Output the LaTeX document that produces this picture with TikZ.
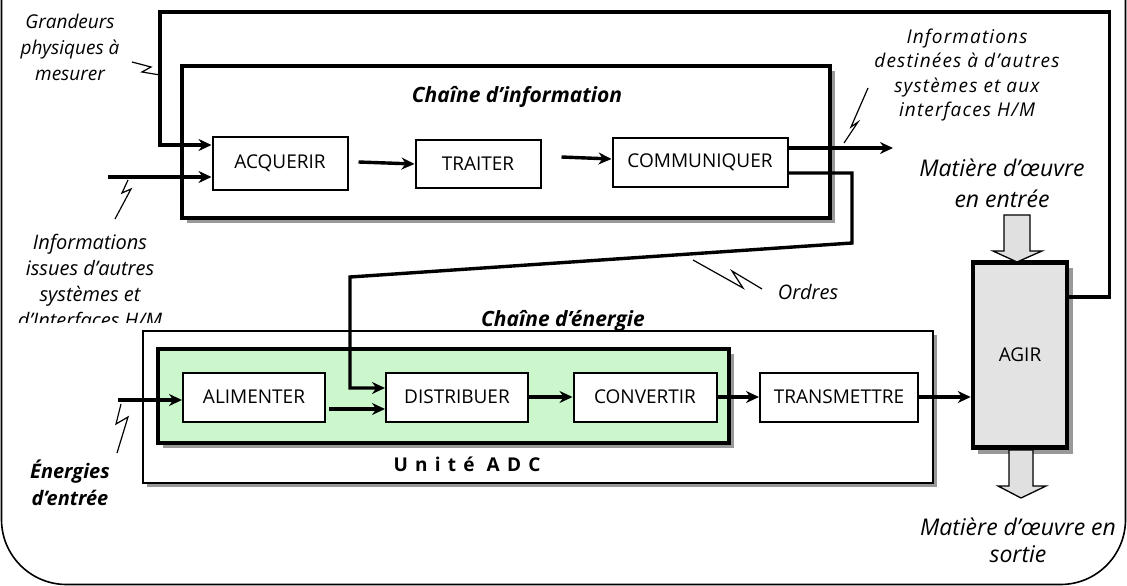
\documentclass[tikz,border=0pt]{standalone}
\usepackage{fontspec}
\setmainfont{Open Sans}
\usetikzlibrary{arrows.meta,calc}
\begin{document}
\begin{tikzpicture}[x=1pt,y=-1pt,
  blk/.style={draw, line width=2pt, fill=white, inner sep=0pt, font=\fontsize{19}{22}\selectfont},
  conn/.style={line width=3.4pt, -{Stealth[length=13pt,width=12pt]}},
  zig/.style={line width=1.2pt},
  lab/.style={font=\itshape\fontsize{20}{26}\selectfont, align=center},
  title/.style={font=\bfseries\itshape\fontsize{21}{24}\selectfont},
  shadow/.style={fill=black!40, draw=none},
  blockarrow/.style={draw, line width=1.3pt, fill=black!12},
]
\useasboundingbox (0,0) rectangle (1127,586);
% outer frame
\draw[line width=1.6pt, rounded corners=65pt] (1.5,-40) -- (1.5,584.5) -- (1125.5,584.5) -- (1125.5,-40);

% information chain container
\fill[shadow] (187,71) rectangle (835,223);
\draw[line width=4.5pt, fill=white] (182,66) rectangle (830,218);
\node[title] (tinfo) at (517,97) {Chaîne d’information};

% energy chain container
\fill[shadow] (147,335) rectangle (937,487);
\draw[line width=1.6pt, fill=white] (143,331) rectangle (933,483);
\node[title, anchor=base] (tener) at (563,326) {Chaîne d’énergie};

% ADC unit
\fill[shadow] (163,354) rectangle (734,448);
\draw[line width=4.5pt, fill={rgb,255:red,204;green,246;blue,204}] (158,349) rectangle (729,443);
\node[font=\bfseries\fontsize{19}{22}\selectfont\addfontfeature{LetterSpace=38}] (tadc) at (467,464) {Unité ADC};

% AGIR shadow
\fill[shadow] (978,268) rectangle (1073,454);

% blocks
\node[blk, minimum width=135pt, minimum height=53pt] (acq) at (280,163) {ACQUERIR};
\node[blk, minimum width=125pt, minimum height=48pt] (trait) at (478,164) {TRAITER};
\node[blk, minimum width=175pt, minimum height=49pt] (comm) at (700,162) {COMMUNIQUER};
\node[blk, minimum width=142pt, minimum height=49pt] (alim) at (254,397) {ALIMENTER};
\node[blk, minimum width=142pt, minimum height=49pt] (dist) at (457,397) {DISTRIBUER};
\node[blk, minimum width=143pt, minimum height=49pt] (conv) at (645,397) {CONVERTIR};
\node[blk, minimum width=158pt, minimum height=49pt] (trans) at (839,397) {TRANSMETTRE};
\node[blk, line width=4.5pt, fill=black!11, minimum width=94pt, minimum height=185pt] (agir) at (1020,355) {AGIR};

% block arrows
\draw[blockarrow] (1004,215) -- (1030,215) -- (1030,251) -- (1042,251) -- (1017,262) -- (993,251) -- (1004,251) -- cycle;
\draw[blockarrow] (1009,450) -- (1033,450) -- (1033,486) -- (1046,486) -- (1021,498) -- (998,486) -- (1009,486) -- cycle;

% connectors
\draw[conn] ([yshift=58pt]agir.east) -- ++(40,0) |- (160,12) |- ([yshift=18pt]acq.west);
\coordinate (infoin) at (108,177);
\draw[conn] (infoin) -- ([yshift=-14pt]acq.west);
\draw[conn] ([xshift=10pt,yshift=1pt]acq.east) -- (trait.west);
\draw[conn] ([xshift=20pt,yshift=7pt]trait.east) -- ([yshift=3pt]comm.west);
\coordinate (infoout) at (893,148);
\draw[conn] ([yshift=14pt]comm.east) -- (infoout);
\draw[conn] ([yshift=-11pt]comm.east) -- (852,173) -- (852,243) -- (350,277) -- (350,388) -- ([yshift=9pt]dist.west);
\coordinate (enin) at (118,400);
\draw[conn] (enin) -- ([yshift=-3pt]alim.west);
\draw[conn] ([xshift=3pt,yshift=-12pt]alim.east) -- ([yshift=-12pt]dist.west);
\draw[conn] (dist.east) -- (conv.west);
\draw[conn] (conv.east) -- (trans.west);
\draw[conn] (trans.east) -- (trans.east -| agir.west);

% lightning marks
\draw[zig] (132,62) -- (151,67) -- (142,72) -- (160,75);
\draw[zig] (128,180) -- (122,193) -- (131,189) -- (115,219);
\draw[zig] (868,88) -- (851,127) -- (858,122) -- (844,143);
\draw[zig] (693,260) -- (743,288) -- (732,271) -- (762,289);
\draw[zig] (121,404) -- (116,424) -- (128,417) -- (117,453);

% labels
\node[lab, font=\itshape\fontsize{19}{26}\selectfont] (lgr) at (70,47) {Grandeurs\\physiques à\\mesurer};
\begin{scope}
\clip (0,225) rectangle (300,322);
\node[lab] (lis) at (90,283) {Informations\\issues d’autres\\systèmes et\\d’Interfaces H/M};
\end{scope}
\node[lab, font=\bfseries\itshape\fontsize{20}{27}\selectfont] (len) at (70,483) {Énergies\\d’entrée};
\node[lab, font=\itshape\fontsize{19}{24.5}\selectfont\addfontfeature{LetterSpace=6}] (lde) at (967,75) {Informations\\destinées à d’autres\\systèmes et aux\\interfaces H/M};
\node[lab, font=\itshape\fontsize{23}{31}\selectfont] (lme) at (1002,183) {Matière d'œuvre\\en entrée};
\node[lab, font=\itshape\fontsize{23}{27}\selectfont] (lms) at (1018,540) {Matière d'œuvre en\\sortie};
\node[lab] (lord) at (808,292) {Ordres};
\end{tikzpicture}
\end{document}
